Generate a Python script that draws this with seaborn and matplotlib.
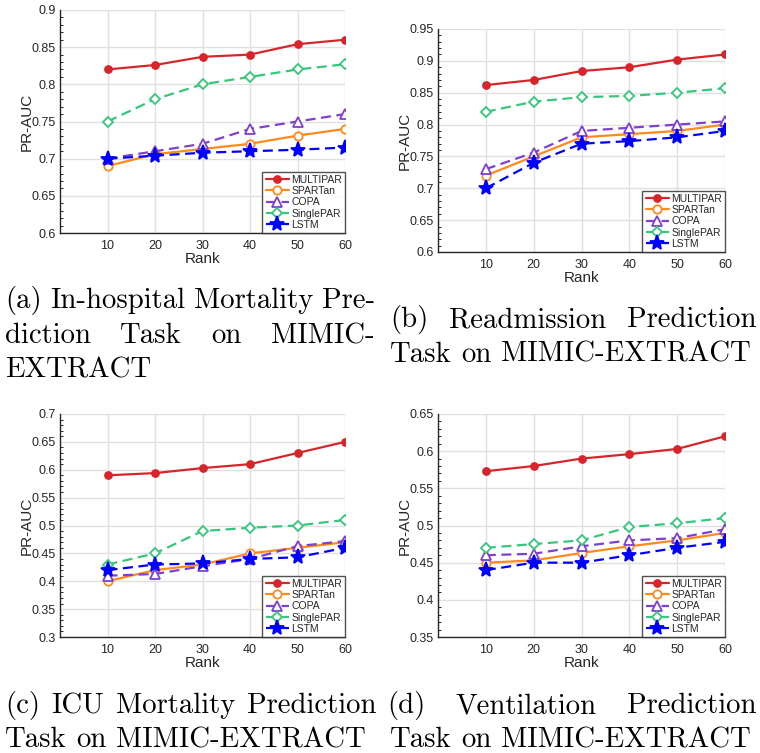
import matplotlib
matplotlib.use("Agg")
import matplotlib.pyplot as plt
import seaborn as sns
import pandas as pd
from matplotlib.ticker import MultipleLocator
import warnings
warnings.filterwarnings("ignore")

ranks = [10, 20, 30, 40, 50, 60]
methods = ["MULTIPAR", "SPARTan", "COPA", "SinglePAR", "LSTM"]

a_multipar = [0.820, 0.826, 0.837, 0.840, 0.854, 0.860]
a_spartan = [0.690, 0.706, 0.713, 0.720, 0.731, 0.740]
a_copa = [0.700, 0.710, 0.720, 0.740, 0.750, 0.760]
a_singlepar = [0.750, 0.780, 0.800, 0.810, 0.820, 0.827]
a_lstm = [0.700, 0.704, 0.708, 0.710, 0.712, 0.715]

b_multipar = [0.862, 0.870, 0.884, 0.890, 0.902, 0.910]
b_spartan = [0.720, 0.750, 0.780, 0.785, 0.790, 0.800]
b_copa = [0.730, 0.756, 0.790, 0.795, 0.800, 0.805]
b_singlepar = [0.820, 0.836, 0.843, 0.845, 0.850, 0.857]
b_lstm = [0.700, 0.740, 0.770, 0.774, 0.780, 0.790]

c_multipar = [0.590, 0.594, 0.603, 0.610, 0.630, 0.650]
c_spartan = [0.400, 0.420, 0.430, 0.450, 0.460, 0.470]
c_copa = [0.410, 0.413, 0.427, 0.440, 0.463, 0.472]
c_singlepar = [0.430, 0.450, 0.490, 0.496, 0.500, 0.510]
c_lstm = [0.420, 0.430, 0.432, 0.440, 0.443, 0.460]

d_multipar = [0.573, 0.580, 0.590, 0.596, 0.603, 0.620]
d_spartan = [0.450, 0.453, 0.463, 0.472, 0.480, 0.490]
d_copa = [0.460, 0.462, 0.472, 0.480, 0.483, 0.495]
d_singlepar = [0.470, 0.475, 0.480, 0.498, 0.503, 0.510]
d_lstm = [0.440, 0.450, 0.450, 0.460, 0.470, 0.478]

y_limits = [(0.6, 0.9), (0.6, 0.95), (0.3, 0.7), (0.35, 0.65)]
captions = [
    ["(a) In-hospital Mortality Pre-", "diction Task on MIMIC-", "EXTRACT"],
    ["(b) Readmission Prediction", "Task on MIMIC-EXTRACT"],
    ["(c) ICU Mortality Prediction", "Task on MIMIC-EXTRACT"],
    ["(d) Ventilation Prediction", "Task on MIMIC-EXTRACT"],
]

panels = [
    [a_multipar, a_spartan, a_copa, a_singlepar, a_lstm],
    [b_multipar, b_spartan, b_copa, b_singlepar, b_lstm],
    [c_multipar, c_spartan, c_copa, c_singlepar, c_lstm],
    [d_multipar, d_spartan, d_copa, d_singlepar, d_lstm],
]

dash = (0, (4.5, 2.5))
styles = {
    "MULTIPAR": dict(color="#D7262B", marker="o", linestyle="-", ms=5.0, mfc="#D7262B"),
    "SPARTan": dict(color="#FF8A1C", marker="o", linestyle="-", ms=6.0, mfc="white"),
    "COPA": dict(color="#7E3FD2", marker="^", linestyle=dash, ms=7.0, mfc="white"),
    "SinglePAR": dict(color="#35C77A", marker="D", linestyle=dash, ms=5.4, mfc="white"),
    "LSTM": dict(color="#0000FF", marker="*", linestyle=dash, ms=11.0, mfc="#0000FF"),
}

sns.set_theme(style="white")
plt.rcParams["font.family"] = ["Liberation Sans", "DejaVu Sans"]

W, H = 760, 753
fig = plt.figure(figsize=(W / 100, H / 100), dpi=100)

# axes boxes in pixels: left, top, right, bottom
boxes = [(60, 10, 345, 233), (438, 29, 725, 252), (60, 414, 345, 637), (438, 414, 725, 637)]
dark = "#262626"

for i, (l, t, r, b) in enumerate(boxes):
    ax = fig.add_axes([l / W, 1 - b / H, (r - l) / W, (b - t) / H])
    for name, vals in zip(methods, panels[i]):
        st = styles[name]
        df = pd.DataFrame({"Rank": ranks, "PR-AUC": vals})
        sns.lineplot(data=df, x="Rank", y="PR-AUC", ax=ax, color=st["color"],
                     marker=st["marker"], linestyle=st["linestyle"], markersize=st["ms"],
                     markerfacecolor=st["mfc"], markeredgecolor=st["color"],
                     markeredgewidth=1.3, linewidth=1.6, label=name, errorbar=None)
    ax.set_xlim(0, 60)
    ax.set_ylim(*y_limits[i])
    ax.set_xticks(ranks)
    ax.yaxis.set_major_locator(MultipleLocator(0.05))
    ax.yaxis.set_minor_locator(MultipleLocator(0.01))
    ax.set_yticklabels([f"{v:g}" for v in ax.get_yticks()])
    ax.grid(True, which="major", color="#E0E0E0", linewidth=1.0)
    ax.set_axisbelow(True)
    for s in ["top", "right"]:
        ax.spines[s].set_visible(False)
    for s in ["left", "bottom"]:
        ax.spines[s].set_color(dark)
        ax.spines[s].set_linewidth(1.0)
    ax.tick_params(axis="both", which="major", direction="in", length=3.5, width=0.8,
                   color=dark, labelcolor=dark, labelsize=9)
    ax.tick_params(axis="y", which="minor", direction="in", length=2, width=0.7, color=dark, left=True)
    ax.tick_params(axis="x", which="major", pad=5)
    ax.tick_params(axis="y", which="major", pad=3)
    ax.set_xlabel("Rank", fontsize=11, color=dark, labelpad=0)
    ax.set_ylabel("PR-AUC", fontsize=11, color=dark, labelpad=-1.5)
    leg = ax.legend(loc="lower right", borderaxespad=0, fontsize=7.5, frameon=True,
                    fancybox=False, handlelength=2.2, handletextpad=0.25,
                    labelspacing=0.12, borderpad=0.3)
    leg.get_frame().set_edgecolor(dark)
    leg.get_frame().set_linewidth(1.0)
    for txt in leg.get_texts():
        txt.set_color(dark)

# captions (justified, serif)
renderer = fig.canvas.get_renderer()
cap_font = dict(family=["cmr10", "DejaVu Serif"], size=20.7, color="black")
space_px = 0.333 * 20.7 * 100 / 72

def place_line(text, x0, y_base, x1=None):
    words = text.split(" ")
    objs = [fig.text(0, 1 - y_base / H, w, va="baseline", ha="left", **cap_font) for w in words]
    widths = [o.get_window_extent(renderer).width for o in objs]
    if x1 is not None and len(words) > 1:
        gap = (x1 - x0 - sum(widths)) / (len(words) - 1)
    else:
        gap = space_px
    x = x0
    for o, wd in zip(objs, widths):
        o.set_x(x / W)
        x += wd + gap

# (a)
place_line(captions[0][0], 5, 308, 375)
place_line(captions[0][1], 5, 343, 375)
place_line(captions[0][2], 5, 378)
# (b)
place_line(captions[1][0], 390, 327, 757)
place_line(captions[1][1], 390, 362)
# (c)
place_line(captions[2][0], 5, 713, 376)
place_line(captions[2][1], 5, 747)
# (d)
place_line(captions[3][0], 387, 713, 757)
place_line(captions[3][1], 390, 747)

fig.savefig("out.png", dpi=100)
